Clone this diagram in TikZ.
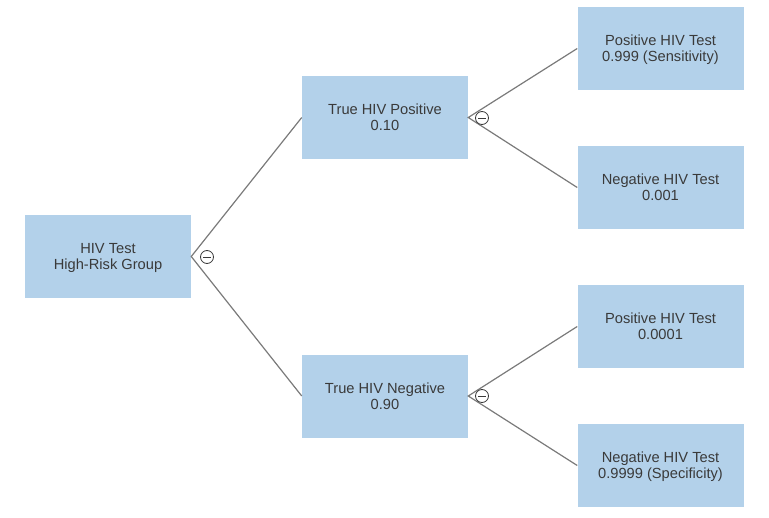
\documentclass[tikz,border=0pt]{standalone}
\usepackage{fontspec}
\setmainfont{Liberation Sans}
\definecolor{boxfill}{HTML}{B3D1EA}
\definecolor{txt}{HTML}{3A3A3A}
\definecolor{lin}{HTML}{7A7A7A}
\begin{document}
\begin{tikzpicture}[x=0.75pt,y=-0.75pt,
  box/.style={fill=boxfill, draw=none, minimum width=166*0.75pt, minimum height=83*0.75pt, inner sep=0pt, align=center, text=txt, font=\fontsize{11pt}{12pt}\selectfont, text depth=-2.5pt},
  conn/.style={draw=lin, line width=0.9pt},
  chance/.style={circle, draw=txt, fill=white, line width=0.6pt, minimum size=13*0.75pt, inner sep=0pt, path picture={\draw[txt, line width=0.6pt] ([xshift=-2.8pt]path picture bounding box.center) -- ([xshift=2.8pt]path picture bounding box.center);}}]
\useasboundingbox (0,0) rectangle (769,518);
\node[box] (root) at (108,256.5) {HIV Test\\High-Risk Group};
\node[box] (tp) at (385,117.5) {True HIV Positive\\0.10};
\node[box] (tn) at (385,396) {True HIV Negative\\0.90};
\node[box] (pp) at (660.5,48.5) {Positive HIV Test\\0.999 (Sensitivity)};
\node[box] (pn) at (660.5,187.5) {Negative HIV Test\\0.001};
\node[box] (np) at (660.5,326.5) {Positive HIV Test\\0.0001};
\node[box] (nn) at (660.5,465.5) {Negative HIV Test\\0.9999 (Specificity)};
\draw[conn] (tp.west) -- (root.east) -- (tn.west);
\draw[conn] (pp.west) -- (tp.east) -- (pn.west);
\draw[conn] (np.west) -- (tn.east) -- (nn.west);
\node[chance] (c1) at (207,257) {};
\node[chance] (c2) at (482,118) {};
\node[chance] (c3) at (482,396) {};
\end{tikzpicture}
\end{document}
